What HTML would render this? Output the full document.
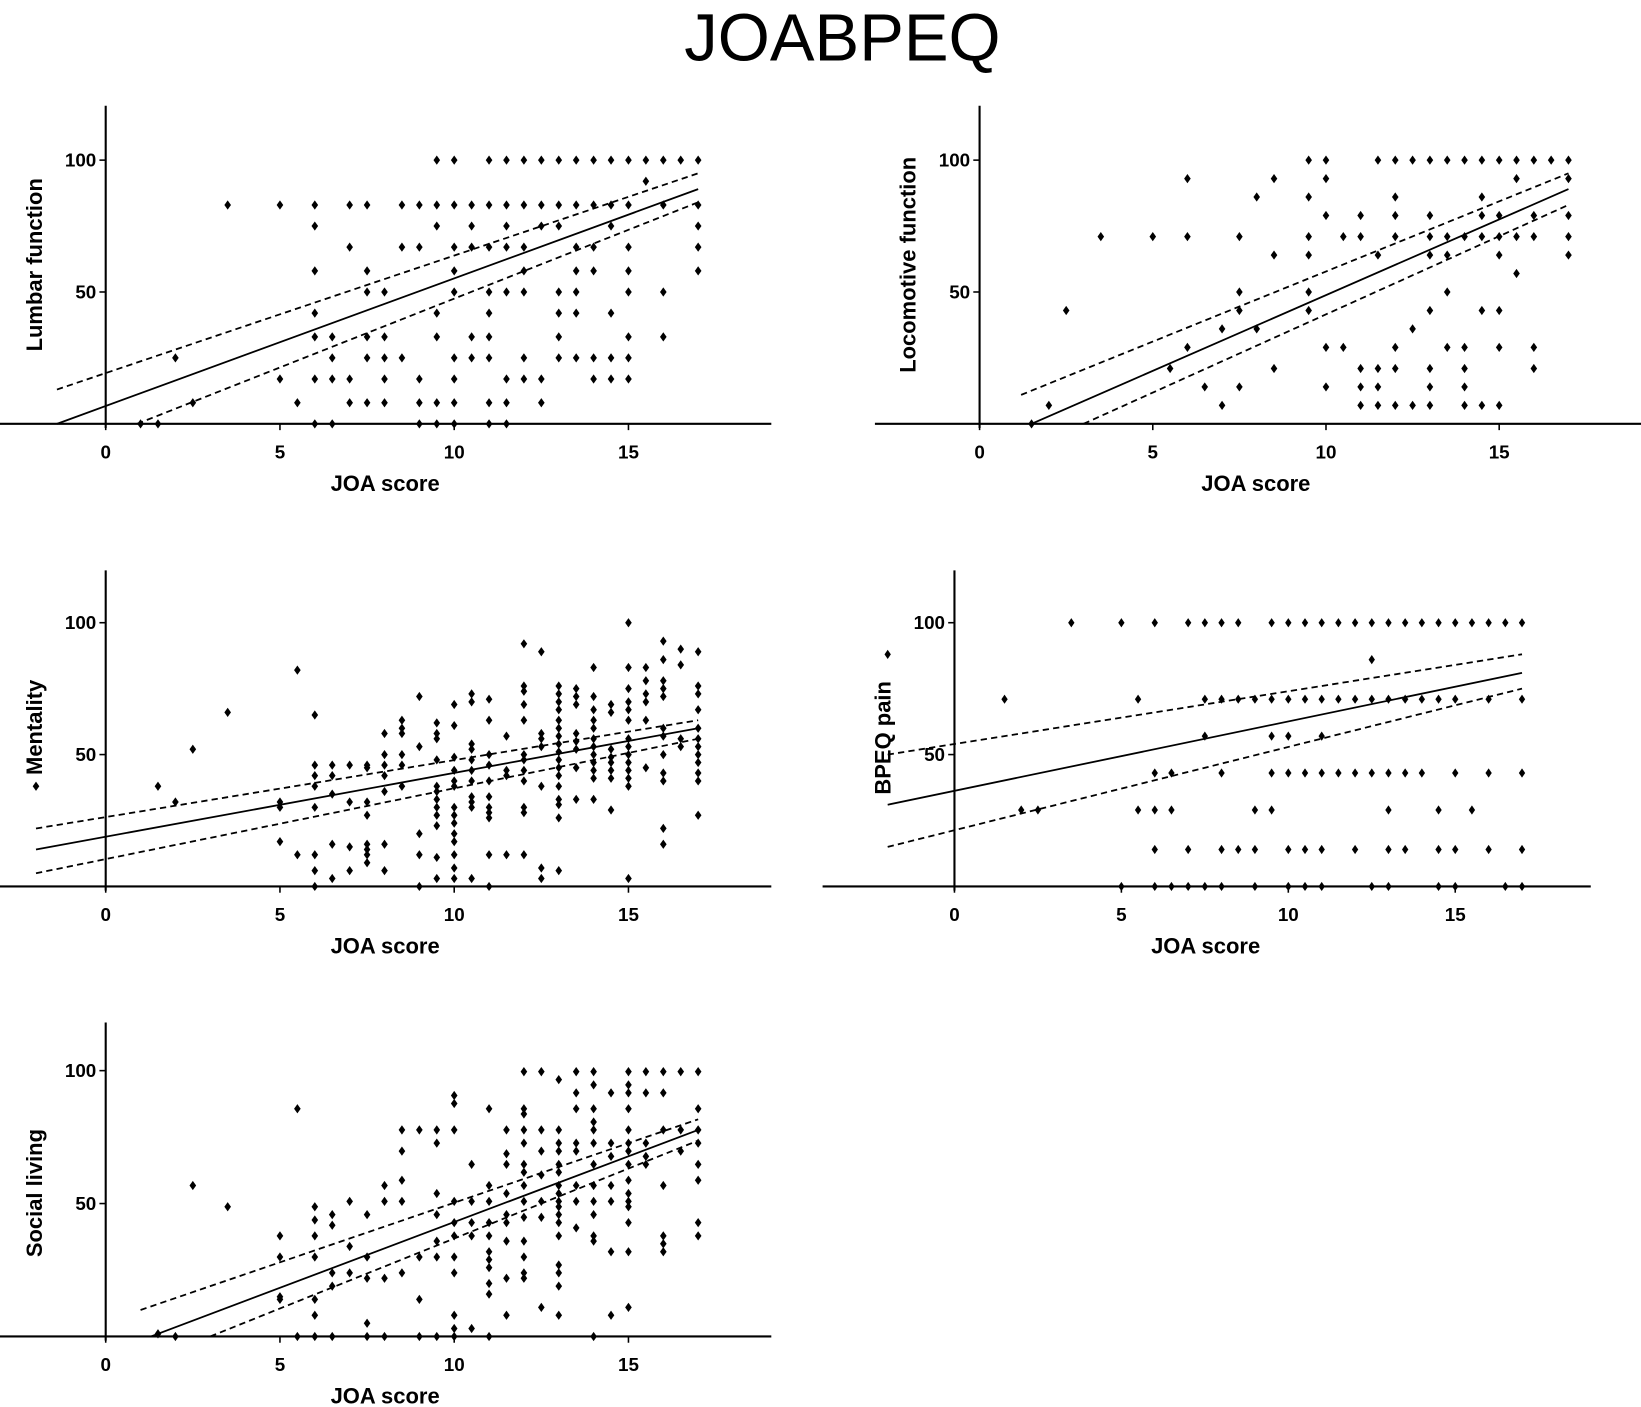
<!DOCTYPE html>
<html><head><meta charset="utf-8"><style>
html,body{margin:0;padding:0;background:#fff;}
svg{display:block;}
text{font-family:"Liberation Sans",sans-serif;fill:#000;}
.p{fill:none;stroke:none;marker-start:url(#m);marker-mid:url(#m);marker-end:url(#m);}
.ax{stroke:#000;stroke-width:2;}
.tk{stroke:#000;stroke-width:1.5;}
.f{stroke:#000;stroke-width:1.7;}
.d{stroke:#000;stroke-width:1.7;stroke-dasharray:6 4;}
.tl{font-size:18px;font-weight:bold;}
.al{font-size:21px;font-weight:bold;}
</style></head><body>
<svg width="1641" height="1407" viewBox="0 0 1568 1344.4" preserveAspectRatio="none" xmlns="http://www.w3.org/2000/svg">
<defs>
<marker id="m" markerUnits="userSpaceOnUse" markerWidth="0.19" markerHeight="3.5" viewBox="-1 -1 2 2" preserveAspectRatio="none" refX="0" refY="0" overflow="visible"><path d="M0 -1L1 0L0 1L-1 0Z" fill="#000"/></marker>
</defs>
<text x="805" y="58" font-size="64" text-anchor="middle">JOABPEQ</text>

<!-- Panel 1 -->
<line class="ax" x1="0" y1="405" x2="737" y2="405"/>
<line class="ax" x1="101" y1="101" x2="101" y2="409"/>
<line class="tk" x1="101" y1="405" x2="101" y2="411"/><line class="tk" x1="267.5" y1="405" x2="267.5" y2="411"/><line class="tk" x1="434" y1="405" x2="434" y2="411"/><line class="tk" x1="600.5" y1="405" x2="600.5" y2="411"/>
<line class="tk" x1="95" y1="279" x2="101" y2="279"/><line class="tk" x1="95" y1="153" x2="101" y2="153"/>
<text class="tl" x="101" y="438" text-anchor="middle">0</text><text class="tl" x="267.5" y="438" text-anchor="middle">5</text><text class="tl" x="434" y="438" text-anchor="middle">10</text><text class="tl" x="600.5" y="438" text-anchor="middle">15</text>
<text class="tl" x="92" y="285" text-anchor="end">50</text><text class="tl" x="92" y="159" text-anchor="end">100</text>
<text class="al" x="368" y="469" text-anchor="middle">JOA score</text>
<text class="al" transform="translate(40,253) rotate(-90)" text-anchor="middle">Lumbar function</text>
<g transform="translate(101,405) scale(33.3,-2.52)">
<polyline class="p" points="9.5,100 10,100 11,100 11.5,100 12,100 12.5,100 13,100 13.5,100 14,100 14.5,100 15,100 15.5,100 16,100 16.5,100 17,100 15.5,92 3.5,83 5,83 6,83 7,83 7.5,83 8.5,83 9,83 9.5,83 10,83 10.5,83 11,83 11.5,83 12,83 12.5,83 13,83 13.5,83 14,83 14.5,83 15,83 16,83 17,83 6,75 9.5,75 10.5,75 11.5,75 12.5,75 13,75 14.5,75 17,75 7,67 8.5,67 9,67 10,67 10.5,67 11,67 11.5,67 12,67 13.5,67 14,67 15,67 17,67 6,58 7.5,58 10,58 12,58 13.5,58 14,58 15,58 17,58 7.5,50 8,50 10,50 11,50 11.5,50 12,50 13,50 13.5,50 15,50 16,50 6,42 9.5,42 11,42 13,42 13.5,42 14.5,42 6,33 6.5,33 7.5,33 8,33 9.5,33 10.5,33 11,33 13,33 15,33 16,33 2,25 6.5,25 7.5,25 8,25 8.5,25 10,25 10.5,25 11,25 12,25 13,25 13.5,25 14,25 14.5,25 15,25 5,17 6,17 6.5,17 7,17 8,17 9,17 10,17 11.5,17 12,17 12.5,17 14,17 14.5,17 15,17 2.5,8 5.5,8 7,8 7.5,8 8,8 9,8 9.5,8 10,8 11,8 11.5,8 12.5,8 1,0 1.5,0 6,0 6.5,0 9,0 9.5,0 10,0 11,0 11.5,0"/>
</g>
<line class="f" x1="54.4" y1="405" x2="667.1" y2="180.7"/>
<line class="d" x1="54.4" y1="372.2" x2="667.1" y2="165.6"/>
<line class="d" x1="131" y1="405" x2="667.1" y2="193.3"/>

<!-- Panel 2 -->
<line class="ax" x1="836" y1="405" x2="1568" y2="405"/>
<line class="ax" x1="936" y1="101" x2="936" y2="409"/>
<line class="tk" x1="936" y1="405" x2="936" y2="411"/><line class="tk" x1="1101.5" y1="405" x2="1101.5" y2="411"/><line class="tk" x1="1267" y1="405" x2="1267" y2="411"/><line class="tk" x1="1432.5" y1="405" x2="1432.5" y2="411"/>
<line class="tk" x1="930" y1="279" x2="936" y2="279"/><line class="tk" x1="930" y1="153" x2="936" y2="153"/>
<text class="tl" x="936" y="438" text-anchor="middle">0</text><text class="tl" x="1101.5" y="438" text-anchor="middle">5</text><text class="tl" x="1267" y="438" text-anchor="middle">10</text><text class="tl" x="1432.5" y="438" text-anchor="middle">15</text>
<text class="tl" x="927" y="285" text-anchor="end">50</text><text class="tl" x="927" y="159" text-anchor="end">100</text>
<text class="al" x="1200" y="469" text-anchor="middle">JOA score</text>
<text class="al" transform="translate(875,253) rotate(-90)" text-anchor="middle">Locomotive function</text>
<g transform="translate(936,405) scale(33.1,-2.52)">
<polyline class="p" points="9.5,100 10,100 11.5,100 12,100 12.5,100 13,100 13.5,100 14,100 14.5,100 15,100 15.5,100 16,100 16.5,100 17,100 6,93 8.5,93 10,93 15.5,93 17,93 8,86 9.5,86 12,86 14.5,86 10,79 11,79 12,79 13,79 14.5,79 15,79 16,79 17,79 3.5,71 5,71 6,71 7.5,71 9.5,71 10.5,71 11,71 12,71 13,71 13.5,71 14,71 14.5,71 15,71 15.5,71 16,71 17,71 8.5,64 9.5,64 11.5,64 13,64 13.5,64 15,64 17,64 15.5,57 7.5,50 9.5,50 13.5,50 2.5,43 7.5,43 9.5,43 13,43 14.5,43 15,43 7,36 8,36 12.5,36 6,29 10,29 10.5,29 12,29 13.5,29 14,29 15,29 16,29 5.5,21 8.5,21 11,21 11.5,21 12,21 13,21 14,21 16,21 6.5,14 7.5,14 10,14 11,14 11.5,14 13,14 14,14 2,7 7,7 11,7 11.5,7 12,7 12.5,7 13,7 14,7 14.5,7 15,7 1.5,0"/>
</g>
<line class="f" x1="985.7" y1="405" x2="1498.7" y2="180.7"/>
<line class="d" x1="975.7" y1="377.3" x2="1498.7" y2="165.6"/>
<line class="d" x1="1035.3" y1="405" x2="1498.7" y2="195.8"/>

<!-- Panel 3 -->
<line class="ax" x1="0" y1="847" x2="737" y2="847"/>
<line class="ax" x1="101" y1="545" x2="101" y2="851"/>
<line class="tk" x1="101" y1="847" x2="101" y2="853"/><line class="tk" x1="267.5" y1="847" x2="267.5" y2="853"/><line class="tk" x1="434" y1="847" x2="434" y2="853"/><line class="tk" x1="600.5" y1="847" x2="600.5" y2="853"/>
<line class="tk" x1="95" y1="721" x2="101" y2="721"/><line class="tk" x1="95" y1="595" x2="101" y2="595"/>
<text class="tl" x="101" y="880" text-anchor="middle">0</text><text class="tl" x="267.5" y="880" text-anchor="middle">5</text><text class="tl" x="434" y="880" text-anchor="middle">10</text><text class="tl" x="600.5" y="880" text-anchor="middle">15</text>
<text class="tl" x="92" y="727" text-anchor="end">50</text><text class="tl" x="92" y="601" text-anchor="end">100</text>
<text class="al" x="368" y="911" text-anchor="middle">JOA score</text>
<text class="al" transform="translate(40,695) rotate(-90)" text-anchor="middle">Mentality</text>
<g transform="translate(101,847) scale(33.3,-2.52)">
<polyline class="p" points="-2,38 1.5,38 2,32 2.5,52 3.5,66 5,32 5,30 5,17 5.5,82 5.5,12 6,65 6,46 6,42 6,38 6,30 6,12 6,6 6,0 6.5,46 6.5,42 6.5,35 6.5,16 6.5,3 7,46 7,32 7,15 7,6 7.5,46 7.5,45 7.5,32 7.5,27 7.5,16 7.5,14 7.5,12 7.5,9 8,58 8,50 8,46 8,42 8,36 8,16 8,6 8.5,63 8.5,60 8.5,58 8.5,50 8.5,46 8.5,38 9,72 9,53 9,20 9,12 9,0 9.5,62 9.5,58 9.5,56 9.5,48 9.5,38 9.5,36 9.5,33 9.5,30 9.5,27 9.5,23 9.5,11 9.5,3 10,69 10,61 10,49 10,44 10,40 10,38 10,30 10,27 10,24 10,20 10,17 10,12 10,7 10,3 10.5,73 10.5,70 10.5,54 10.5,52 10.5,48 10.5,44 10.5,40 10.5,34 10.5,32 10.5,30 10.5,3 11,71 11,63 11,50 11,46 11,40 11,34 11,30 11,28 11,26 11,12 11,0 11.5,57 11.5,44 11.5,42 11.5,12 12,92 12,76 12,74 12,69 12,63 12,50 12,48 12,44 12,40 12,30 12,28 12,12 12.5,89 12.5,58 12.5,56 12.5,53 12.5,38 12.5,7 12.5,3 13,76 13,73 13,70 13,67 13,63 13,60 13,57 13,54 13,51 13,48 13,45 13,42 13,38 13,33 13,31 13,26 13,6 13.5,75 13.5,72 13.5,69 13.5,58 13.5,55 13.5,52 13.5,45 13.5,33 14,83 14,72 14,67 14,63 14,60 14,56 14,53 14,50 14,47 14,44 14,41 14,33 14.5,69 14.5,66 14.5,52 14.5,49 14.5,47 14.5,44 14.5,41 14.5,29 15,100 15,83 15,75 15,70 15,67 15,63 15,56 15,53 15,50 15,47 15,44 15,41 15,38 15,3 15.5,83 15.5,78 15.5,73 15.5,70 15.5,63 15.5,45 16,93 16,86 16,78 16,75 16,72 16,60 16,57 16,50 16,43 16,40 16,22 16,16 16.5,90 16.5,84 16.5,56 16.5,53 17,89 17,76 17,73 17,67 17,60 17,56 17,53 17,50 17,47 17,43 17,40 17,27"/>
</g>
<line class="f" x1="34.4" y1="811.7" x2="667.1" y2="695.8"/>
<line class="d" x1="34.4" y1="791.6" x2="667.1" y2="688.2"/>
<line class="d" x1="34.4" y1="834.4" x2="667.1" y2="705.9"/>

<!-- Panel 4 -->
<line class="ax" x1="786" y1="847" x2="1520" y2="847"/>
<line class="ax" x1="912" y1="545" x2="912" y2="851"/>
<line class="tk" x1="912" y1="847" x2="912" y2="853"/><line class="tk" x1="1071.5" y1="847" x2="1071.5" y2="853"/><line class="tk" x1="1231" y1="847" x2="1231" y2="853"/><line class="tk" x1="1390.5" y1="847" x2="1390.5" y2="853"/>
<line class="tk" x1="906" y1="721" x2="912" y2="721"/><line class="tk" x1="906" y1="595" x2="912" y2="595"/>
<text class="tl" x="912" y="880" text-anchor="middle">0</text><text class="tl" x="1071.5" y="880" text-anchor="middle">5</text><text class="tl" x="1231" y="880" text-anchor="middle">10</text><text class="tl" x="1390.5" y="880" text-anchor="middle">15</text>
<text class="tl" x="903" y="727" text-anchor="end">50</text><text class="tl" x="903" y="601" text-anchor="end">100</text>
<text class="al" x="1152" y="911" text-anchor="middle">JOA score</text>
<text class="al" transform="translate(851,705) rotate(-90)" text-anchor="middle">BPEQ pain</text>
<g transform="translate(912,847) scale(31.9,-2.52)">
<polyline class="p" points="3.5,100 5,100 6,100 7,100 7.5,100 8,100 8.5,100 9.5,100 10,100 10.5,100 11,100 11.5,100 12,100 12.5,100 13,100 13.5,100 14,100 14.5,100 15,100 15.5,100 16,100 16.5,100 17,100 12.5,86 -2,88 1.5,71 5.5,71 7.5,71 8,71 8.5,71 9,71 9.5,71 10,71 10.5,71 11,71 11.5,71 12,71 12.5,71 13,71 13.5,71 14,71 14.5,71 15,71 16,71 17,71 7.5,57 9.5,57 10,57 11,57 6,43 6.5,43 8,43 9.5,43 10,43 10.5,43 11,43 11.5,43 12,43 12.5,43 13,43 13.5,43 14,43 15,43 16,43 17,43 2,29 2.5,29 5.5,29 6,29 6.5,29 9,29 9.5,29 13,29 14.5,29 15.5,29 6,14 7,14 8,14 8.5,14 9,14 10,14 10.5,14 11,14 12,14 13,14 13.5,14 14.5,14 15,14 16,14 17,14 5,0 6,0 6.5,0 7,0 7.5,0 8,0 9,0 10,0 10.5,0 11,0 12.5,0 13,0 14.5,0 15,0 16.5,0 17,0"/>
</g>
<line class="f" x1="848.2" y1="768.9" x2="1454.3" y2="642.9"/>
<line class="d" x1="848.2" y1="721" x2="1454.3" y2="625.2"/>
<line class="d" x1="848.2" y1="809.2" x2="1454.3" y2="658"/>

<!-- Panel 5 -->
<line class="ax" x1="0" y1="1277" x2="737" y2="1277"/>
<line class="ax" x1="101" y1="977" x2="101" y2="1281"/>
<line class="tk" x1="101" y1="1277" x2="101" y2="1283"/><line class="tk" x1="267.5" y1="1277" x2="267.5" y2="1283"/><line class="tk" x1="434" y1="1277" x2="434" y2="1283"/><line class="tk" x1="600.5" y1="1277" x2="600.5" y2="1283"/>
<line class="tk" x1="95" y1="1150" x2="101" y2="1150"/><line class="tk" x1="95" y1="1023" x2="101" y2="1023"/>
<text class="tl" x="101" y="1310" text-anchor="middle">0</text><text class="tl" x="267.5" y="1310" text-anchor="middle">5</text><text class="tl" x="434" y="1310" text-anchor="middle">10</text><text class="tl" x="600.5" y="1310" text-anchor="middle">15</text>
<text class="tl" x="92" y="1156" text-anchor="end">50</text><text class="tl" x="92" y="1029" text-anchor="end">100</text>
<text class="al" x="368" y="1341" text-anchor="middle">JOA score</text>
<text class="al" transform="translate(40,1140) rotate(-90)" text-anchor="middle">Social living</text>
<g transform="translate(101,1277) scale(33.3,-2.53)">
<polyline class="p" points="1.5,1 2,0 2.5,57 3.5,49 5,38 5,30 5,14 5,15 5.5,86 5.5,0 6,49 6,44 6,38 6,30 6,14 6,8 6,0 6.5,46 6.5,42 6.5,24 6.5,19 6.5,0 7,51 7,34 7,24 7.5,46 7.5,30 7.5,22 7.5,5 7.5,0 8,57 8,51 8,22 8,0 8.5,78 8.5,70 8.5,59 8.5,51 8.5,24 9,78 9,30 9,14 9,0 9.5,78 9.5,73 9.5,54 9.5,46 9.5,36 9.5,30 9.5,0 10,91 10,88 10,78 10,51 10,43 10,38 10,30 10,24 10,8 10,3 10,0 10.5,65 10.5,51 10.5,43 10.5,38 10.5,3 11,86 11,57 11,51 11,43 11,38 11,32 11,29 11,26 11,20 11,16 11,0 11.5,78 11.5,69 11.5,65 11.5,54 11.5,46 11.5,43 11.5,36 11.5,22 11.5,8 12,100 12,86 12,84 12,78 12,73 12,65 12,62 12,57 12,51 12,45 12,36 12,30 12,24 12,22 12.5,100 12.5,78 12.5,70 12.5,61 12.5,51 12.5,45 12.5,11 13,97 13,78 13,73 13,70 13,65 13,62 13,57 13,54 13,51 13,49 13,46 13,43 13,38 13,27 13,24 13,19 13,8 13.5,100 13.5,92 13.5,86 13.5,73 13.5,70 13.5,57 13.5,51 13.5,41 14,100 14,95 14,86 14,81 14,78 14,73 14,65 14,57 14,51 14,46 14,38 14,36 14,0 14.5,92 14.5,73 14.5,68 14.5,57 14.5,51 14.5,32 14.5,8 15,100 15,95 15,92 15,86 15,78 15,73 15,70 15,65 15,59 15,54 15,51 15,49 15,43 15,32 15,11 15.5,100 15.5,92 15.5,73 15.5,68 15.5,65 16,100 16,92 16,78 16,57 16,38 16,35 16,32 16.5,100 16.5,78 16.5,70 17,100 17,86 17,78 17,73 17,65 17,59 17,43 17,38"/>
</g>
<line class="f" x1="144.3" y1="1277" x2="667.1" y2="1079.7"/>
<line class="d" x1="134.3" y1="1251.7" x2="667.1" y2="1069.5"/>
<line class="d" x1="200.9" y1="1277" x2="667.1" y2="1089.8"/>
</svg>
</body></html>
